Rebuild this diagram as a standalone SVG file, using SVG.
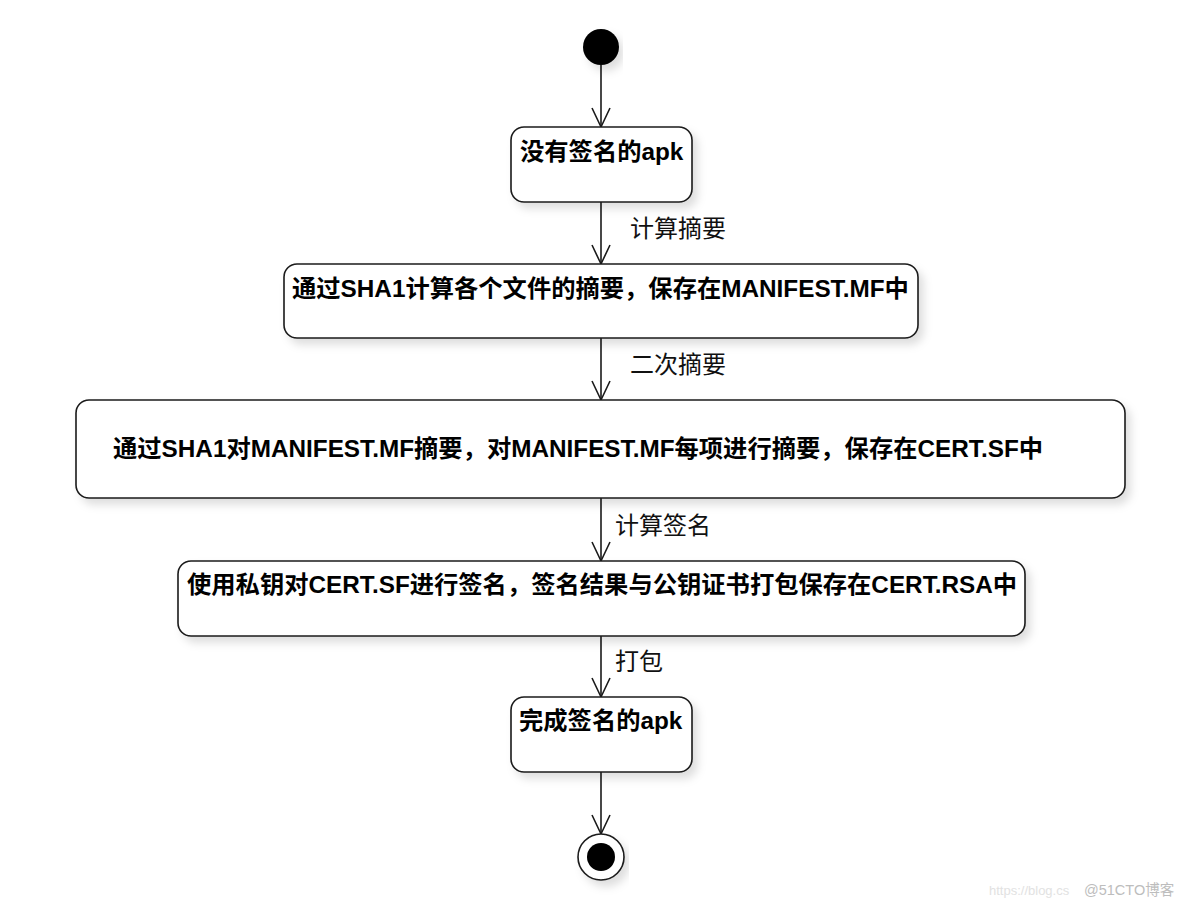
<svg xmlns="http://www.w3.org/2000/svg" width="1184" height="906" viewBox="0 0 1184 906">
<style>
.node{fill:#fff;stroke:#1a1a1a;stroke-width:1.6}
.t{font-family:"Liberation Sans","Noto Sans CJK SC",sans-serif;font-size:24.3px;font-weight:bold;fill:#000}
.lbl{font-family:"Liberation Sans","Noto Sans CJK SC",sans-serif;font-size:24px;fill:#111}
.edge{stroke:#1a1a1a;stroke-width:1.6;fill:none}
.wm{font-family:"Liberation Sans","Noto Sans CJK SC",sans-serif}
</style>
<defs>
<filter id="sh" x="-10%" y="-30%" width="120%" height="170%">
<feDropShadow dx="5" dy="6" stdDeviation="4" flood-color="#000" flood-opacity="0.13"/>
</filter>
<marker id="arr" markerUnits="userSpaceOnUse" viewBox="0 0 22 20" markerWidth="22" markerHeight="20" refX="20" refY="10" orient="auto">
<path d="M1,1 L20,10 L1,19" fill="none" stroke="#1a1a1a" stroke-width="1.6"/>
</marker>
</defs>
<rect width="1184" height="906" fill="#fff"/>

<g id="connectors">
<line class="edge" x1="601" y1="65" x2="601" y2="127" marker-end="url(#arr)"/>
<line class="edge" x1="601" y1="202" x2="601" y2="264" marker-end="url(#arr)"/>
<line class="edge" x1="601" y1="338" x2="601" y2="400" marker-end="url(#arr)"/>
<line class="edge" x1="601" y1="498" x2="601" y2="561" marker-end="url(#arr)"/>
<line class="edge" x1="601" y1="636" x2="601" y2="697" marker-end="url(#arr)"/>
<line class="edge" x1="601" y1="772" x2="601" y2="834" marker-end="url(#arr)"/>
<text class="lbl" x="630" y="237">计算摘要</text>
<text class="lbl" x="630" y="373">二次摘要</text>
<text class="lbl" x="615" y="534">计算签名</text>
<text class="lbl" x="615" y="670">打包</text>
</g>

<g id="start">
<circle cx="601" cy="47" r="18" fill="#000" filter="url(#sh)"/>
</g>

<g id="n1">
<rect class="node" x="511" y="127" width="181" height="75" rx="13" filter="url(#sh)"/>
<text class="t" x="520" y="160">没有签名的apk</text>
</g>

<g id="n2">
<rect class="node" x="284" y="264" width="634" height="74" rx="13" filter="url(#sh)"/>
<text class="t" x="292" y="297">通过SHA1计算各个文件的摘要，保存在MANIFEST.MF中</text>
</g>

<g id="n3">
<rect class="node" x="76" y="400" width="1049" height="98" rx="13" filter="url(#sh)"/>
<text class="t" x="113" y="457">通过SHA1对MANIFEST.MF摘要，对MANIFEST.MF每项进行摘要，保存在CERT.SF中</text>
</g>

<g id="n4">
<rect class="node" x="178" y="561" width="847" height="75" rx="13" filter="url(#sh)"/>
<text class="t" x="187" y="593">使用私钥对CERT.SF进行签名，签名结果与公钥证书打包保存在CERT.RSA中</text>
</g>

<g id="n5">
<rect class="node" x="511" y="697" width="181" height="75" rx="13" filter="url(#sh)"/>
<text class="t" x="519" y="729">完成签名的apk</text>
</g>

<g id="end">
<circle cx="601" cy="857" r="23" fill="#fff" stroke="#1a1a1a" stroke-width="1.6" filter="url(#sh)"/>
<circle cx="601" cy="857" r="14" fill="#000"/>
</g>

<g id="watermark">
<text class="wm" x="989" y="895" font-size="13" fill="#e2e2e2">https://blog.cs</text>
<text class="wm" x="1084" y="895" font-size="14.5" fill="#bdbdbd">@51CTO博客</text>
</g>
</svg>
